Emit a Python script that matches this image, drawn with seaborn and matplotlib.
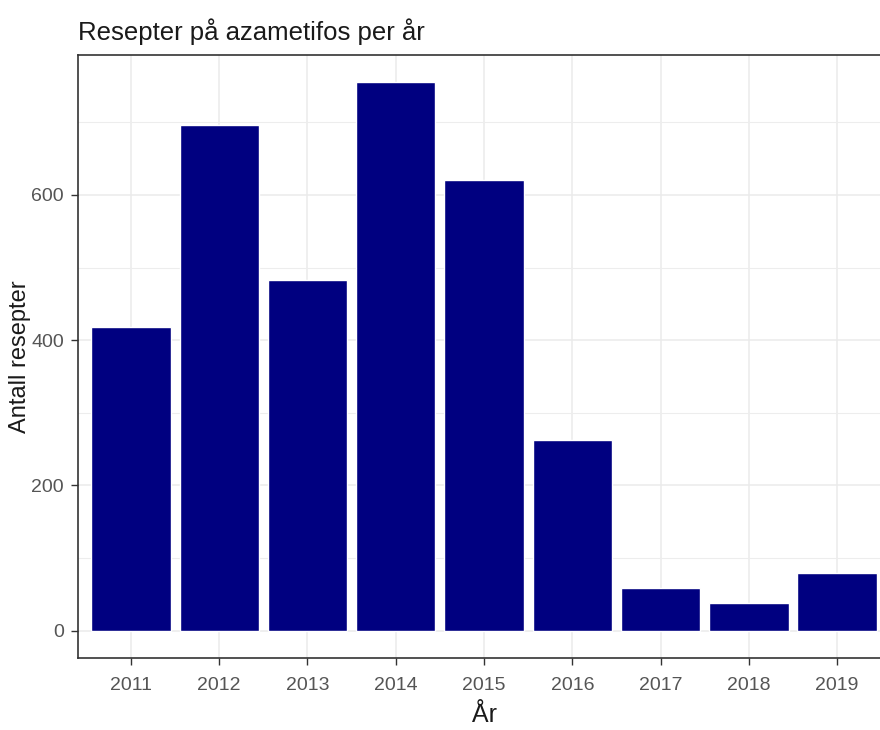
import matplotlib
matplotlib.use("Agg")
import matplotlib.pyplot as plt
import seaborn as sns
import pandas as pd
from matplotlib.ticker import MultipleLocator

# data
years = ["2011", "2012", "2013", "2014", "2015", "2016", "2017", "2018", "2019"]
counts = [418, 696, 483, 755, 621, 263, 59, 38, 80]

df = pd.DataFrame({"Year": years, "Count": counts})

sns.set_theme(style="white")
plt.rcParams["font.family"] = ["Liberation Sans", "DejaVu Sans"]

fig = plt.figure(figsize=(8.8, 7.3), dpi=100)
# panel runs a little past the right edge, as in the cropped reference
ax = fig.add_axes([78 / 880, 1 - 658 / 730, 812 / 880, (658 - 55) / 730])

sns.barplot(data=df, x="Year", y="Count", color="#000080", saturation=1,
            width=0.9, ax=ax, zorder=2)

ymax = max(counts)
pad = 0.05 * ymax
ax.set_ylim(-pad, ymax + pad)
ax.set_xlim(-0.6, len(years) - 0.4)

ax.yaxis.set_major_locator(MultipleLocator(200))
ax.yaxis.set_minor_locator(MultipleLocator(100))
ax.grid(which="major", color="#EBEBEB", linewidth=1.1, zorder=0)
ax.grid(which="minor", axis="y", color="#EDEDED", linewidth=0.8, zorder=0)
ax.set_axisbelow(True)

for s in ax.spines.values():
    s.set_color("#333333")
    s.set_linewidth(1.2)

ax.tick_params(axis="x", which="major", pad=9)
ax.tick_params(axis="y", which="major", pad=5)
ax.tick_params(axis="both", which="major", length=5, width=1, color="#333333",
               labelsize=14, labelcolor="#555555", direction="out",
               bottom=True, left=True)
ax.tick_params(axis="both", which="minor", length=0)

ax.set_xlabel("År", fontsize=18, color="#1a1a1a", labelpad=6)
ax.set_ylabel("Antall resepter", fontsize=17, color="#1a1a1a", va="center")
ax.yaxis.set_label_coords(-0.072, 0.5)
ax.set_title("Resepter på azametifos per år", fontsize=18.5, color="#1a1a1a",
             loc="left", pad=11)

fig.savefig("out.png", dpi=100)
